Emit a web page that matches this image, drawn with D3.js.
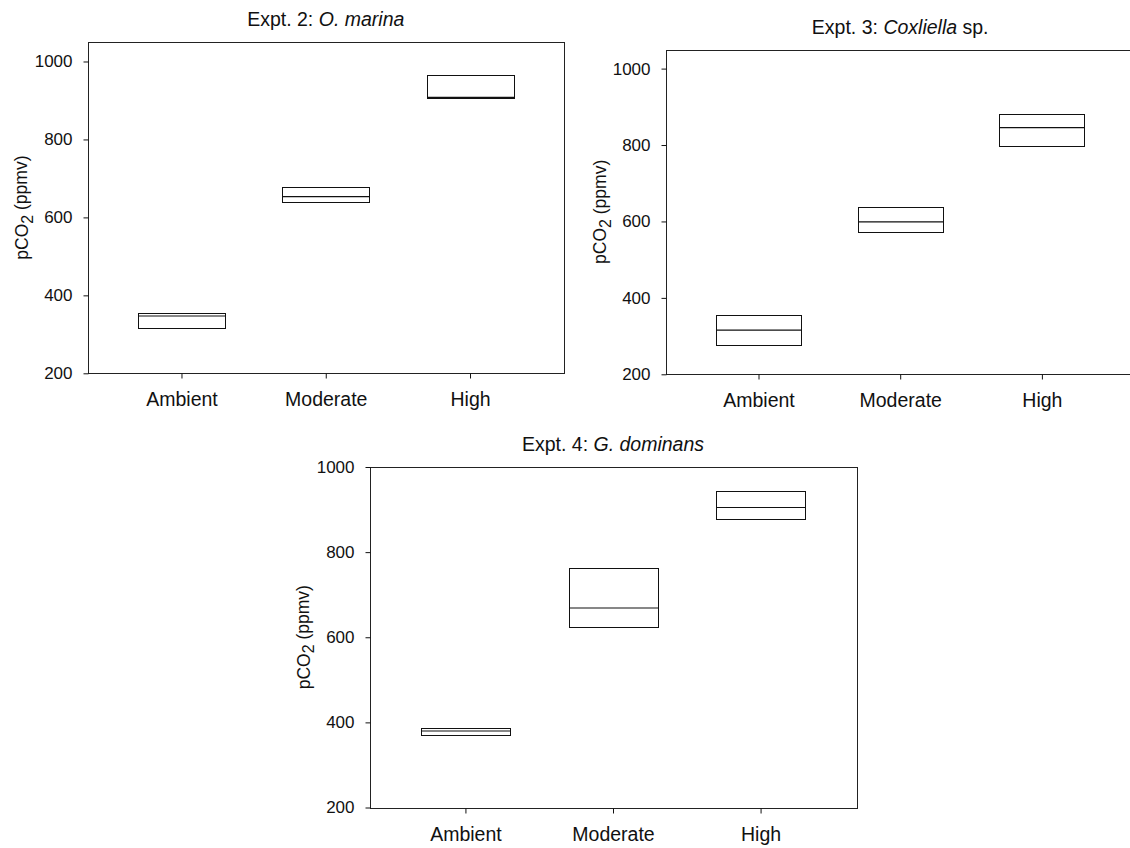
<!DOCTYPE html>
<html>
<head>
<meta charset="utf-8">
<script src="https://cdn.jsdelivr.net/npm/d3@7"></script>
<style>
  body { margin: 0; background: #fff; }
  svg { display: block; }
  text { font-family: Arial, "Liberation Sans", sans-serif; fill: #111; }
</style>
</head>
<body>
<script>
const width = 1130;
const height = 848;

// Data (box = low / median / high pCO2, ppmv)
const categories = ['Ambient', 'Moderate', 'High'];
const yTicks = [200, 400, 600, 800, 1000];

const marinaLow = [315.5, 640.6, 906];
const marinaMid = [347, 653.4, 908];
const marinaHigh = [354, 679, 966];

const coxLow = [275.8, 572, 797.6];
const coxMid = [315.8, 599, 845.8];
const coxHigh = [354.2, 636.6, 881.3];

const domLow = [370.3, 623, 879];
const domMid = [379.7, 668.7, 904.8];
const domHigh = [387.5, 762.7, 943.8];

const svg = d3.select('body')
  .append('svg')
  .attr('width', width)
  .attr('height', height);

// panel layout
const panels = [
  { num: '2', species: 'O. marina', tail: '', left: 87.7, right: 563.8, top: 42, bottom: 373.3,
    yMax: 1050, low: marinaLow, mid: marinaMid, high: marinaHigh },
  { num: '3', species: 'Coxliella', tail: ' sp.', left: 666.4, right: 1134, top: 49.5, bottom: 374.3,
    yMax: 1050, low: coxLow, mid: coxMid, high: coxHigh },
  { num: '4', species: 'G. dominans', tail: '', left: 369.5, right: 856.5, top: 467, bottom: 807.5,
    yMax: 1000, low: domLow, mid: domMid, high: domHigh }
];

const snap = v => Math.round(v) + 0.5;

const drawPanel = (p) => {
  const x = d3.scalePoint()
    .domain(categories)
    .range([p.left, p.right])
    .padding(0.65);
  const y = d3.scaleLinear()
    .domain([200, p.yMax])
    .range([p.bottom, p.top]);

  const g = svg.append('g');

  // frame
  g.append('rect')
    .attr('x', snap(p.left))
    .attr('y', snap(p.top))
    .attr('width', Math.round(p.right) - Math.round(p.left))
    .attr('height', Math.round(p.bottom) - Math.round(p.top))
    .attr('fill', 'none')
    .attr('stroke', '#222')
    .attr('stroke-width', 1);

  // y axis
  const yAxis = d3.axisLeft(y)
    .tickValues(yTicks)
    .tickSize(5)
    .tickPadding(11)
    .tickFormat(d => d);
  g.append('g')
    .attr('transform', `translate(${snap(p.left)},0)`)
    .call(yAxis)
    .call(a => a.select('.domain').remove())
    .call(a => a.selectAll('line').attr('stroke', '#111'))
    .call(a => a.selectAll('text').style('font-size', '17px').attr('fill', '#111'));

  // x axis
  const xAxis = d3.axisBottom(x)
    .tickSize(5)
    .tickPadding(14);
  g.append('g')
    .attr('transform', `translate(0,${snap(p.bottom)})`)
    .call(xAxis)
    .call(a => a.select('.domain').remove())
    .call(a => a.selectAll('line').attr('stroke', '#111'))
    .call(a => a.selectAll('text').style('font-size', '19.5px').attr('fill', '#111'));

  // boxes
  const bw = x.step() * 0.6;
  const rows = categories.map((c, i) => ({ c, lo: p.low[i], md: p.mid[i], hi: p.high[i] }));

  g.append('g')
    .selectAll('rect')
    .data(rows)
    .enter()
    .append('rect')
    .attr('x', d => snap(x(d.c) - bw / 2))
    .attr('y', d => snap(y(d.hi)))
    .attr('width', Math.round(bw))
    .attr('height', d => Math.max(1, Math.round(y(d.lo)) - Math.round(y(d.hi))))
    .attr('fill', 'none')
    .attr('stroke', '#111')
    .attr('stroke-width', 1);

  g.append('g')
    .selectAll('line')
    .data(rows)
    .enter()
    .append('line')
    .attr('x1', d => snap(x(d.c) - bw / 2))
    .attr('x2', d => snap(x(d.c) - bw / 2) + Math.round(bw))
    .attr('y1', d => y(d.md))
    .attr('y2', d => y(d.md))
    .attr('stroke', '#111')
    .attr('stroke-width', 1.2);

  // title
  const title = g.append('text')
    .attr('x', (p.left + Math.min(p.right, p.right)) / 2)
    .attr('y', p.top - 16)
    .attr('text-anchor', 'middle')
    .style('font-size', '19.5px');
  title.append('tspan').text(`Expt. ${p.num}: `);
  title.append('tspan').style('font-style', 'italic').text(p.species);
  if (p.tail) title.append('tspan').text(p.tail);

  // y label
  const cy = (p.top + p.bottom) / 2;
  const lab = g.append('text')
    .attr('transform', `translate(${p.left - 60},${cy}) rotate(-90)`)
    .attr('text-anchor', 'middle')
    .style('font-size', '17.5px');
  lab.append('tspan').text('pCO');
  lab.append('tspan').attr('dy', '0.3em').style('font-size', '16px').text('2');
  lab.append('tspan').attr('dy', '-0.3em').text(' (ppmv)');
};

panels.forEach(drawPanel);
</script>
</body>
</html>
